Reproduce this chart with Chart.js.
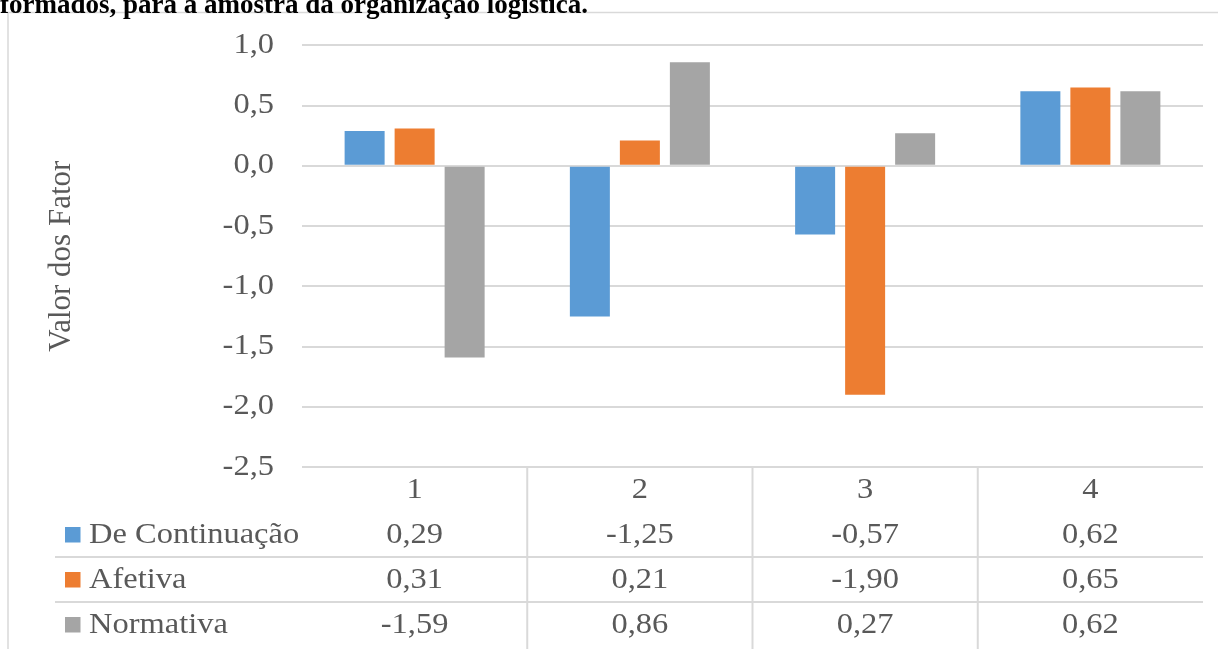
<!DOCTYPE html>
<html>
<head>
<meta charset="utf-8">
<script src="https://cdn.jsdelivr.net/npm/chart.js@4.4.1/dist/chart.umd.min.js"></script>
<style>
  html, body { margin: 0; padding: 0; background: #ffffff; }
  #wrap { position: relative; width: 1218px; height: 649px; }
</style>
</head>
<body>
<div id="wrap"><canvas id="c"></canvas></div>
<script>
// ---- data ----
const titleText = 'formados, para a amostra da organização logística.';
const categories = ['1', '2', '3', '4'];
const seriesNames = ['De Continuação', 'Afetiva', 'Normativa'];
const deContinuacao = [0.29, -1.25, -0.57, 0.62];
const afetiva = [0.31, 0.21, -1.90, 0.65];
const normativa = [-1.59, 0.86, 0.27, 0.62];
const yAxisTitle = 'Valor dos Fator';
const yMin = -2.5, yMax = 1.0, yStep = 0.5;

const seriesValues = [deContinuacao, afetiva, normativa];
const seriesColors = ['#5B9BD5', '#ED7D31', '#A5A5A5'];
const textColor = '#595959';
const lineColor = '#d9d9d9';
const serif = "'Liberation Serif', 'Times New Roman', serif";
const SX = 1.12; // horizontal text stretch seen in the reference
const fmt = (v, d) => v.toFixed(d).replace('.', ',');

const canvas = document.getElementById('c');
const ctx2d = canvas.getContext('2d');
const origFill = ctx2d.fillText;
let stretchOn = true;
ctx2d.fillText = function (text, x, y, maxWidth) {
  const m = this.getTransform();
  if (stretchOn && Math.abs(m.b) < 1e-6 && Math.abs(m.c) < 1e-6) {
    this.save();
    this.translate(x, y);
    this.scale(SX, 1);
    if (maxWidth === undefined) origFill.call(this, text, 0, 0);
    else origFill.call(this, text, 0, 0, maxWidth / SX);
    this.restore();
  } else {
    if (maxWidth === undefined) origFill.call(this, text, x, y);
    else origFill.call(this, text, x, y, maxWidth);
  }
};

const framePlugin = {
  id: 'frame',
  beforeDraw(chart) {
    const c = chart.ctx;
    c.save();
    c.strokeStyle = lineColor;
    c.lineWidth = 1.5;
    c.beginPath();
    c.moveTo(8, 649);
    c.lineTo(8, 12.5);
    c.lineTo(1218, 12.5);
    c.stroke();
    c.restore();
  },
  afterDraw(chart) {
    const c = chart.ctx;
    const xs = chart.scales.x;
    const area = chart.chartArea;
    c.save();
    // title (cut off at the top)
    stretchOn = false;
    c.font = 'bold 27px ' + serif;
    c.fillStyle = '#000000';
    c.textAlign = 'left';
    c.textBaseline = 'alphabetic';
    c.fillText(titleText, 0, 13);
    stretchOn = true;

    // data table
    c.strokeStyle = lineColor;
    c.lineWidth = 2;
    const rowLines = [557, 602];
    rowLines.forEach(y => {
      c.beginPath(); c.moveTo(55, y); c.lineTo(area.right, y); c.stroke();
    });
    const step = (xs.getPixelForValue(1) - xs.getPixelForValue(0));
    for (let i = 1; i < categories.length; i++) {
      const x = xs.getPixelForValue(i) - step / 2;
      c.beginPath(); c.moveTo(x, area.bottom); c.lineTo(x, 649); c.stroke();
    }
    c.font = '29px ' + serif;
    c.fillStyle = textColor;
    c.textBaseline = 'middle';
    c.textAlign = 'center';
    categories.forEach((cat, i) => c.fillText(cat, xs.getPixelForValue(i), 490));
    const rowY = [535, 580, 625];
    seriesNames.forEach((name, s) => {
      const y = rowY[s];
      c.fillStyle = seriesColors[s];
      c.fillRect(65, y - 8, 15.5, 15.5);
      c.fillStyle = textColor;
      c.textAlign = 'left';
      c.fillText(name, 89, y);
      c.textAlign = 'center';
      seriesValues[s].forEach((v, i) => c.fillText(fmt(v, 2), xs.getPixelForValue(i), y));
    });
    c.restore();
  }
};

new Chart(canvas, {
  type: 'bar',
  data: {
    labels: categories,
    datasets: seriesNames.map((name, s) => ({
      label: name,
      data: seriesValues[s],
      backgroundColor: seriesColors[s],
      borderWidth: 0,
      categoryPercentage: 0.666,
      barPercentage: 0.8
    }))
  },
  options: {
    responsive: true,
    maintainAspectRatio: false,
    animation: false,
    devicePixelRatio: 1,
    layout: { padding: { left: 0, top: 43, right: 15, bottom: 182 } },
    plugins: { legend: { display: false }, tooltip: { enabled: false }, title: { display: false } },
    scales: {
      x: { display: false },
      y: {
        min: yMin, max: yMax,
        afterFit(scale) { scale.width = 302; },
        border: { display: false },
        grid: { color: lineColor, lineWidth: 2, drawTicks: false },
        ticks: {
          stepSize: yStep,
          padding: 28,
          color: textColor,
          font: { family: serif, size: 29 },
          callback: v => fmt(v, 1)
        },
        title: {
          display: true,
          text: yAxisTitle,
          color: textColor,
          font: { family: serif, size: 31 },
          padding: { top: 43, bottom: 0 }
        }
      }
    }
  },
  plugins: [framePlugin]
});
</script>
</body>
</html>
